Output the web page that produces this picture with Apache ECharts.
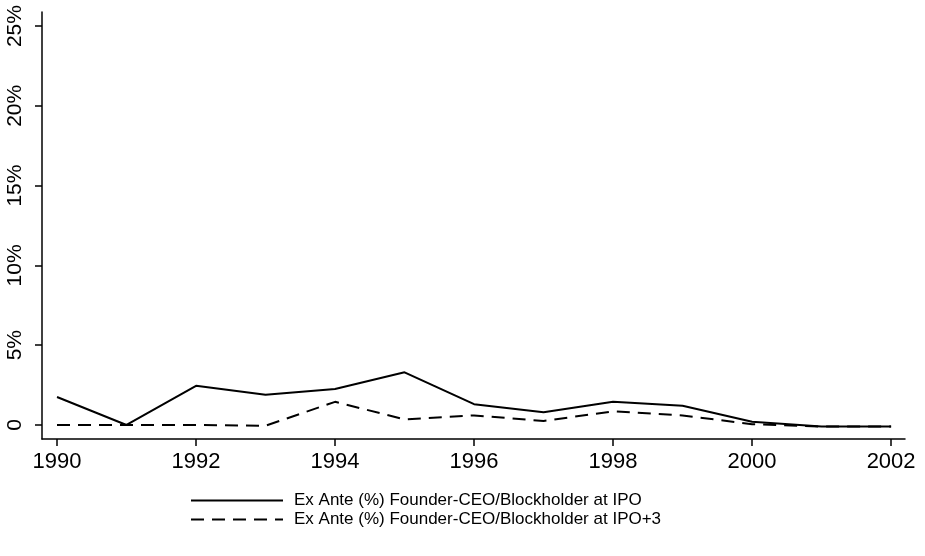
<!DOCTYPE html>
<html>
<head>
<meta charset="utf-8">
<script src="https://cdn.jsdelivr.net/npm/echarts@6/dist/echarts.min.js"></script>
<style>
  html, body { margin: 0; padding: 0; background: #fff; }
  #chart { width: 925px; height: 556px; }
</style>
</head>
<body>
<div id="chart"></div>
<script>
const years = [1990, 1991, 1992, 1993, 1994, 1995, 1996, 1997, 1998, 1999, 2000, 2001, 2002]
const atIPO = [1.75, 0, 2.45, 1.9, 2.25, 3.3, 1.3, 0.8, 1.45, 1.2, 0.2, -0.1, -0.1]
const atIPO3 = [0, 0, 0, -0.05, 1.45, 0.35, 0.6, 0.25, 0.85, 0.6, 0.05, -0.1, -0.1]
const xTicks = [1990, 1992, 1994, 1996, 1998, 2000, 2002]
const yTicks = [0, 5, 10, 15, 20, 25]
const seriesNames = [
  'Ex Ante (%) Founder-CEO/Blockholder at IPO',
  'Ex Ante (%) Founder-CEO/Blockholder at IPO+3'
]

const chart = echarts.init(document.getElementById('chart'))

const font = 'Liberation Sans, Arial, sans-serif'

chart.setOption({
  backgroundColor: '#fff',
  animation: false,
  color: ['#000', '#000'],
  grid: { left: 42, right: 20, top: 12, bottom: 117 },
  xAxis: {
    type: 'value',
    min: 1989.784,
    max: 2002.2,
    splitLine: { show: false },
    axisLine: { onZero: false, lineStyle: { color: '#000', width: 1.5 } },
    axisTick: { customValues: xTicks, length: 7, lineStyle: { color: '#000', width: 1.5 } },
    axisLabel: {
      customValues: xTicks,
      color: '#000',
      fontFamily: font,
      fontSize: 22,
      margin: 12,
      formatter: v => String(v)
    }
  },
  yAxis: {
    type: 'value',
    min: -0.88,
    max: 25.88,
    splitLine: { show: false },
    axisLine: { show: true, onZero: false, lineStyle: { color: '#000', width: 1.5 } },
    axisTick: { show: true, customValues: yTicks, length: 7, lineStyle: { color: '#000', width: 1.5 } },
    axisLabel: {
      customValues: yTicks,
      rotate: 90,
      color: '#000',
      fontFamily: font,
      fontSize: 21,
      margin: 16,
      formatter: v => v === 0 ? '0' : v + '%'
    }
  },
  legend: {
    orient: 'vertical',
    left: 185,
    top: 487,
    itemWidth: 92,
    itemHeight: 14,
    itemGap: 2,
    itemStyle: { opacity: 0 },
    textStyle: { color: '#000', fontFamily: font, fontSize: 17, padding: [0, 0, 0, 6] },
    data: seriesNames
  },
  series: [
    {
      name: seriesNames[0],
      type: 'line',
      symbol: 'none',
      data: years.map((y, i) => [y, atIPO[i]]),
      lineStyle: { color: '#000', width: 2 }
    },
    {
      name: seriesNames[1],
      type: 'line',
      symbol: 'none',
      data: years.map((y, i) => [y, atIPO3[i]]),
      lineStyle: { color: '#000', width: 2, type: [13, 8] }
    }
  ]
})
</script>
</body>
</html>
